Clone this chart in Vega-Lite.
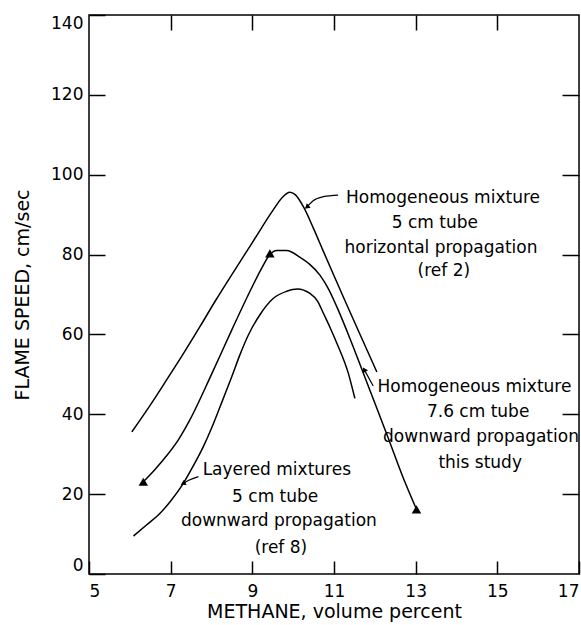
{
  "$schema": "https://vega.github.io/schema/vega-lite/v6.json",
  "width": 490,
  "height": 559,
  "autosize": {"type": "none"},
  "padding": {"left": 89, "top": 15, "right": 2, "bottom": 51},
  "background": "white",
  "config": {
    "view": {"stroke": "black", "strokeWidth": 1.5},
    "font": "DejaVu Sans",
    "axis": {"grid": false, "domain": false, "tickColor": "black", "tickWidth": 1.5, "labelColor": "black", "titleColor": "black", "labelFont": "DejaVu Sans", "titleFont": "DejaVu Sans", "titleFontWeight": "normal"}
  },
  "datasets": {
    "curves": [
      {"s": "A", "x": 6.05, "y": 35.6}, {"s": "A", "x": 6.5, "y": 42.3}, {"s": "A", "x": 6.9, "y": 48.6}, {"s": "A", "x": 7.3, "y": 55.0}, {"s": "A", "x": 7.72, "y": 62.0}, {"s": "A", "x": 8.1, "y": 68.5}, {"s": "A", "x": 8.53, "y": 75.5}, {"s": "A", "x": 9.0, "y": 83.0}, {"s": "A", "x": 9.5, "y": 91.0}, {"s": "A", "x": 9.75, "y": 94.5}, {"s": "A", "x": 9.92, "y": 95.6}, {"s": "A", "x": 10.05, "y": 95.0}, {"s": "A", "x": 10.25, "y": 92.0}, {"s": "A", "x": 10.5, "y": 86.5}, {"s": "A", "x": 10.74, "y": 80.8}, {"s": "A", "x": 11.0, "y": 74.7}, {"s": "A", "x": 11.31, "y": 67.5}, {"s": "A", "x": 11.55, "y": 62.0}, {"s": "A", "x": 11.8, "y": 56.3}, {"s": "A", "x": 12.05, "y": 50.6},
      {"s": "B", "x": 6.33, "y": 23.1}, {"s": "B", "x": 6.6, "y": 26.0}, {"s": "B", "x": 6.9, "y": 29.6}, {"s": "B", "x": 7.2, "y": 33.8}, {"s": "B", "x": 7.47, "y": 38.6}, {"s": "B", "x": 8.0, "y": 50.0}, {"s": "B", "x": 8.5, "y": 61.2}, {"s": "B", "x": 9.0, "y": 72.0}, {"s": "B", "x": 9.25, "y": 77.0}, {"s": "B", "x": 9.43, "y": 80.0}, {"s": "B", "x": 9.6, "y": 81.0}, {"s": "B", "x": 9.84, "y": 81.0}, {"s": "B", "x": 10.17, "y": 79.3}, {"s": "B", "x": 10.4, "y": 77.6}, {"s": "B", "x": 10.66, "y": 74.8}, {"s": "B", "x": 10.87, "y": 71.3}, {"s": "B", "x": 11.07, "y": 66.9}, {"s": "B", "x": 11.39, "y": 59.0}, {"s": "B", "x": 11.7, "y": 50.8}, {"s": "B", "x": 12.0, "y": 42.8}, {"s": "B", "x": 12.33, "y": 34.0}, {"s": "B", "x": 12.66, "y": 25.0}, {"s": "B", "x": 13.02, "y": 16.2},
      {"s": "C", "x": 6.09, "y": 9.5}, {"s": "C", "x": 6.4, "y": 12.2}, {"s": "C", "x": 6.74, "y": 15.2}, {"s": "C", "x": 7.0, "y": 18.3}, {"s": "C", "x": 7.31, "y": 22.7}, {"s": "C", "x": 7.55, "y": 27.0}, {"s": "C", "x": 7.8, "y": 31.9}, {"s": "C", "x": 8.0, "y": 36.5}, {"s": "C", "x": 8.21, "y": 41.9}, {"s": "C", "x": 8.5, "y": 49.5}, {"s": "C", "x": 8.7, "y": 55.0}, {"s": "C", "x": 8.9, "y": 59.8}, {"s": "C", "x": 9.19, "y": 65.0}, {"s": "C", "x": 9.51, "y": 69.0}, {"s": "C", "x": 9.84, "y": 70.8}, {"s": "C", "x": 10.1, "y": 71.4}, {"s": "C", "x": 10.41, "y": 70.3}, {"s": "C", "x": 10.6, "y": 68.3}, {"s": "C", "x": 10.74, "y": 65.3}, {"s": "C", "x": 10.9, "y": 61.8}, {"s": "C", "x": 11.07, "y": 57.8}, {"s": "C", "x": 11.35, "y": 50.3}, {"s": "C", "x": 11.51, "y": 44.0}
    ],
    "markers": [
      {"x": 6.33, "y": 23.1}, {"x": 9.43, "y": 80.3}, {"x": 13.02, "y": 16.2}
    ],
    "leaders": [
      {"a": 1, "o": 1, "x": 11.1, "y": 94.9}, {"a": 1, "o": 2, "x": 10.74, "y": 94.5}, {"a": 1, "o": 3, "x": 10.49, "y": 93.5}, {"a": 1, "o": 4, "x": 10.36, "y": 92.2},
      {"a": 2, "o": 1, "x": 11.96, "y": 47.1}, {"a": 2, "o": 2, "x": 11.76, "y": 50.8},
      {"a": 3, "o": 1, "x": 7.68, "y": 24.4}, {"a": 3, "o": 2, "x": 7.43, "y": 23.4}, {"a": 3, "o": 3, "x": 7.33, "y": 22.8}
    ],
    "heads": [
      {"a": 1, "x": 10.35, "y": 92.0}, {"a": 2, "x": 11.75, "y": 51.0}, {"a": 3, "x": 7.32, "y": 22.75}
    ],
    "labels": [
      {"x": 13.67, "y": 94.2, "t": "Homogeneous mixture"},
      {"x": 13.47, "y": 88.0, "t": "5 cm tube"},
      {"x": 13.62, "y": 81.6, "t": "horizontal propagation"},
      {"x": 13.69, "y": 75.9, "t": "(ref 2)"},
      {"x": 14.44, "y": 46.8, "t": "Homogeneous mixture"},
      {"x": 14.53, "y": 40.6, "t": "7.6 cm tube"},
      {"x": 14.6, "y": 34.4, "t": "downward propagation"},
      {"x": 14.58, "y": 27.7, "t": "this study"},
      {"x": 9.6, "y": 26.0, "t": "Layered mixtures"},
      {"x": 9.56, "y": 19.4, "t": "5 cm tube"},
      {"x": 9.65, "y": 13.3, "t": "downward propagation"},
      {"x": 9.7, "y": 6.4, "t": "(ref 8)"}
    ]
  },
  "resolve": {"axis": {"x": "independent", "y": "independent"}},
  "layer": [
    {
      "data": {"name": "curves"},
      "mark": {"type": "line", "color": "black", "strokeWidth": 1.5, "interpolate": "monotone"},
      "encoding": {
        "x": {"field": "x", "type": "quantitative", "scale": {"domain": [5, 17], "nice": false, "zero": false},
          "axis": {"orient": "bottom", "values": [5, 7, 9, 11, 13, 15, 17], "tickSize": -13, "labelPadding": 22, "labelFontSize": 17, "title": "METHANE, volume percent", "titleFontSize": 19, "titlePadding": 3}},
        "y": {"field": "y", "type": "quantitative", "scale": {"domain": [0, 140], "nice": false, "zero": false},
          "axis": {"orient": "left", "values": [0, 20, 40, 60, 80, 100, 120, 140], "tickSize": -16, "labelPadding": 22, "labelFontSize": 17, "labelFlush": true, "title": "FLAME SPEED, cm/sec", "titleFontSize": 19, "titlePadding": 18}},
        "detail": {"field": "s"}
      }
    },
    {
      "data": {"name": "leaders"},
      "mark": {"type": "line", "color": "black", "strokeWidth": 1.2, "interpolate": "monotone"},
      "encoding": {
        "x": {"field": "x", "type": "quantitative", "axis": {"orient": "top", "values": [7, 9, 11, 13, 15], "tickSize": -15, "labels": false, "title": null}},
        "y": {"field": "y", "type": "quantitative", "axis": {"orient": "right", "values": [20, 40, 60, 80, 100, 120], "tickSize": -17, "labels": false, "title": null}},
        "detail": {"field": "a"},
        "order": {"field": "o"}
      }
    },
    {
      "data": {"name": "heads"},
      "transform": [{"filter": "datum.a == 1"}],
      "mark": {"type": "point", "shape": "triangle", "filled": true, "color": "black", "opacity": 1, "size": 35, "angle": 230},
      "encoding": {"x": {"field": "x", "type": "quantitative", "axis": null}, "y": {"field": "y", "type": "quantitative", "axis": null}}
    },
    {
      "data": {"name": "heads"},
      "transform": [{"filter": "datum.a == 2"}],
      "mark": {"type": "point", "shape": "triangle", "filled": true, "color": "black", "opacity": 1, "size": 35, "angle": 330},
      "encoding": {"x": {"field": "x", "type": "quantitative", "axis": null}, "y": {"field": "y", "type": "quantitative", "axis": null}}
    },
    {
      "data": {"name": "heads"},
      "transform": [{"filter": "datum.a == 3"}],
      "mark": {"type": "point", "shape": "triangle", "filled": true, "color": "black", "opacity": 1, "size": 35, "angle": 243},
      "encoding": {"x": {"field": "x", "type": "quantitative", "axis": null}, "y": {"field": "y", "type": "quantitative", "axis": null}}
    },
    {
      "data": {"name": "markers"},
      "mark": {"type": "point", "shape": "triangle-up", "filled": true, "color": "black", "opacity": 1, "size": 90},
      "encoding": {"x": {"field": "x", "type": "quantitative", "axis": null}, "y": {"field": "y", "type": "quantitative", "axis": null}}
    },
    {
      "data": {"name": "labels"},
      "mark": {"type": "text", "font": "DejaVu Sans", "fontSize": 17, "color": "black", "align": "center", "baseline": "middle"},
      "encoding": {"x": {"field": "x", "type": "quantitative", "axis": null}, "y": {"field": "y", "type": "quantitative", "axis": null}, "text": {"field": "t"}}
    }
  ]
}
